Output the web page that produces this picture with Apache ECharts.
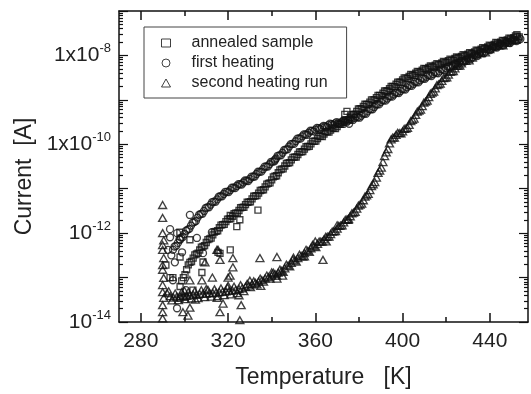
<!DOCTYPE html>
<html>
<head>
<meta charset="utf-8">
<script src="https://cdn.jsdelivr.net/npm/echarts@6/dist/echarts.min.js"></script>
<style>
  html, body { margin: 0; padding: 0; background: #fff; }
  #chart { width: 531px; height: 394px; }
</style>
</head>
<body>
<div id="chart"></div>
<script>
// tick values
const xMajor = [280, 320, 360, 400, 440]
const xMinor = [300, 340, 380, 420]
const yMajor = [1e-14, 1e-13, 1e-12, 1e-11, 1e-10, 1e-9, 1e-8, 1e-7]
const yMinor = [
  2e-14, 3e-14, 4e-14, 5e-14, 6e-14, 7e-14, 8e-14, 9e-14,
  2e-13, 3e-13, 4e-13, 5e-13, 6e-13, 7e-13, 8e-13, 9e-13,
  2e-12, 3e-12, 4e-12, 5e-12, 6e-12, 7e-12, 8e-12, 9e-12,
  2e-11, 3e-11, 4e-11, 5e-11, 6e-11, 7e-11, 8e-11, 9e-11,
  2e-10, 3e-10, 4e-10, 5e-10, 6e-10, 7e-10, 8e-10, 9e-10,
  2e-9, 3e-9, 4e-9, 5e-9, 6e-9, 7e-9, 8e-9, 9e-9,
  2e-8, 3e-8, 4e-8, 5e-8, 6e-8, 7e-8, 8e-8, 9e-8
]
const yLabelVals = [1e-14, 1e-12, 1e-10, 1e-8]
const yLabelBase = ['10', '10', '1x10', '1x10']
const yLabelExp = ['-14', '-12', '-10', '-8']

// annealed sample (squares), [T K, current A]
const annealed = [
  [298, 6.31e-14], [299.5, 1.0e-13], [301, 1.51e-13], [302.5, 2.19e-13], [304, 2.75e-13],
  [305.5, 3.39e-13], [307, 4.17e-13], [308.5, 5.01e-13], [310, 6.17e-13], [311.5, 7.41e-13],
  [313, 9.12e-13], [314.5, 1.1e-12], [316, 1.32e-12], [317.5, 1.55e-12], [319, 1.82e-12],
  [320.5, 2.09e-12], [322, 2.4e-12], [323.5, 2.82e-12], [325, 3.24e-12], [326.5, 3.8e-12],
  [328, 4.37e-12], [329.5, 5.01e-12], [331, 5.89e-12], [332.5, 6.92e-12], [334, 7.94e-12],
  [335.5, 9.33e-12], [337, 1.1e-11], [338.5, 1.32e-11], [340, 1.58e-11], [341.5, 1.91e-11],
  [343, 2.29e-11], [344.5, 2.75e-11], [346, 3.24e-11], [347.5, 3.8e-11], [349, 4.47e-11],
  [350.5, 5.13e-11], [352, 5.89e-11], [353.5, 6.76e-11], [355, 7.76e-11], [356.5, 8.91e-11],
  [358, 1.02e-10], [359.5, 1.17e-10], [361, 1.35e-10], [362.5, 1.51e-10], [364, 1.7e-10],
  [365.5, 1.91e-10], [367, 2.09e-10], [368.5, 2.29e-10], [370, 2.51e-10], [371.5, 2.82e-10],
  [373, 3.16e-10], [374.5, 3.55e-10], [376, 4.07e-10], [377.5, 4.68e-10], [379, 5.5e-10],
  [380.5, 6.31e-10], [382, 7.08e-10], [383.5, 7.94e-10], [385, 8.91e-10], [386.5, 1.0e-9],
  [388, 1.12e-9], [389.5, 1.26e-9], [391, 1.41e-9], [392.5, 1.58e-9], [394, 1.78e-9],
  [395.5, 2.0e-9], [397, 2.24e-9], [398.5, 2.51e-9], [400, 2.82e-9], [401.5, 3.09e-9],
  [403, 3.39e-9], [404.5, 3.63e-9], [406, 3.98e-9], [407.5, 4.27e-9], [409, 4.68e-9],
  [410.5, 5.01e-9], [412, 5.37e-9], [413.5, 5.62e-9], [415, 6.03e-9], [416.5, 6.31e-9],
  [418, 6.76e-9], [419.5, 7.08e-9], [421, 7.59e-9], [422.5, 7.94e-9], [424, 8.51e-9],
  [425.5, 8.91e-9], [427, 9.55e-9], [428.5, 1.0e-8], [430, 1.07e-8], [431.5, 1.12e-8],
  [433, 1.2e-8], [434.5, 1.29e-8], [436, 1.38e-8], [437.5, 1.45e-8], [439, 1.55e-8],
  [440.5, 1.66e-8], [442, 1.78e-8], [443.5, 1.91e-8], [445, 2.0e-8], [446.5, 2.14e-8],
  [448, 2.24e-8], [449.5, 2.4e-8], [451, 2.51e-8], [452.5, 2.69e-8],
  // second row of the band
  [298.75, 8.42e-14], [300.25, 1.16e-13], [301.75, 1.93e-13], [303.25, 2.3e-13], [304.75, 3.23e-13],
  [306.25, 3.53e-13], [307.75, 4.84e-13], [309.25, 5.23e-13], [310.75, 7.17e-13], [312.25, 7.73e-13],
  [313.75, 1.06e-12], [315.25, 1.13e-12], [316.75, 1.52e-12], [318.25, 1.58e-12], [319.75, 2.07e-12],
  [321.25, 2.11e-12], [322.75, 2.76e-12], [324.25, 2.84e-12], [325.75, 3.72e-12], [327.25, 3.83e-12],
  [328.75, 4.96e-12], [330.25, 5.1e-12], [331.75, 6.76e-12], [333.25, 6.97e-12], [334.75, 9.13e-12],
  [336.25, 9.5e-12], [337.75, 1.27e-11], [339.25, 1.35e-11], [340.75, 1.84e-11], [342.25, 1.96e-11],
  [343.75, 2.66e-11], [345.25, 2.8e-11], [346.75, 3.72e-11], [348.25, 3.87e-11], [349.75, 5.08e-11],
  [351.25, 5.17e-11], [352.75, 6.69e-11], [354.25, 6.81e-11], [355.75, 8.82e-11], [357.25, 8.96e-11],
  [358.75, 1.16e-10], [360.25, 1.18e-10], [361.75, 1.52e-10], [363.25, 1.5e-10], [364.75, 1.91e-10],
  [366.25, 1.88e-10], [367.75, 2.32e-10], [369.25, 2.26e-10], [370.75, 2.82e-10], [372.25, 2.81e-10],
  [373.75, 3.55e-10], [375.25, 3.57e-10], [376.75, 4.62e-10], [378.25, 4.77e-10], [379.75, 6.24e-10],
  [381.25, 6.28e-10], [382.75, 7.95e-10], [384.25, 7.91e-10], [385.75, 1.0e-9], [387.25, 9.96e-10],
  [388.75, 1.26e-9], [390.25, 1.25e-9], [391.75, 1.58e-9], [393.25, 1.58e-9], [394.75, 2.0e-9],
  [396.25, 1.99e-9], [397.75, 2.51e-9], [399.25, 2.5e-9], [400.75, 3.13e-9], [402.25, 3.05e-9],
  [403.75, 3.72e-9], [405.25, 3.57e-9], [406.75, 4.37e-9], [408.25, 4.2e-9], [409.75, 5.13e-9],
  [411.25, 4.88e-9], [412.75, 5.82e-9], [414.25, 5.47e-9], [415.75, 6.54e-9], [417.25, 6.14e-9],
  [418.75, 7.34e-9], [420.25, 6.89e-9], [421.75, 8.23e-9], [423.25, 7.73e-9], [424.75, 9.23e-9],
  [426.25, 8.67e-9], [427.75, 1.04e-8], [429.25, 9.72e-9], [430.75, 1.16e-8], [432.25, 1.09e-8],
  [433.75, 1.32e-8], [435.25, 1.25e-8], [436.75, 1.5e-8], [438.25, 1.41e-8], [439.75, 1.7e-8],
  [441.25, 1.62e-8], [442.75, 1.95e-8], [444.25, 1.84e-8], [445.75, 2.19e-8], [447.25, 2.06e-8],
  [448.75, 2.46e-8], [450.25, 2.3e-8], [451.75, 2.76e-8],
  // scattered points
  [297.9, 1.05e-12], [302.5, 7.1e-13], [308.5, 2.24e-13], [316.3, 3.5e-13], [321, 4.2e-13],
  [308, 1.3e-13], [300.2, 3.6e-14], [298, 3.4e-14], [294.7, 1.0e-13], [303.9, 5.2e-14],
  [321, 2.5e-12], [324, 1.4e-12], [315.4, 3.7e-13], [293.4, 1.0e-13], [298, 2.9e-13],
  [291.5, 1.9e-13], [325.4, 2.0e-12], [333.7, 3.3e-12], [374.5, 5.5e-10], [373.5, 4.7e-10],
  [452.4, 2.95e-8], [453.5, 2.6e-8]
]

// first heating (circles)
const firstHeating = [
  [294, 3.16e-13], [295.5, 5.01e-13], [297, 6.03e-13], [298.5, 7.94e-13], [300, 9.55e-13],
  [301.5, 1.2e-12], [303, 1.48e-12], [304.5, 1.78e-12], [306, 2.24e-12], [307.5, 2.69e-12],
  [309, 3.16e-12], [310.5, 3.8e-12], [312, 4.37e-12], [313.5, 5.13e-12], [315, 5.75e-12],
  [316.5, 6.76e-12], [318, 7.59e-12], [319.5, 8.51e-12], [321, 9.33e-12], [322.5, 1.05e-11],
  [324, 1.15e-11], [325.5, 1.26e-11], [327, 1.38e-11], [328.5, 1.51e-11], [330, 1.66e-11],
  [331.5, 1.86e-11], [333, 2.14e-11], [334.5, 2.4e-11], [336, 2.75e-11], [337.5, 3.16e-11],
  [339, 3.55e-11], [340.5, 4.07e-11], [342, 4.79e-11], [343.5, 5.62e-11], [345, 6.46e-11],
  [346.5, 7.59e-11], [348, 8.91e-11], [349.5, 1.02e-10], [351, 1.17e-10], [352.5, 1.35e-10],
  [354, 1.51e-10], [355.5, 1.66e-10], [357, 1.82e-10], [358.5, 2.0e-10], [360, 2.14e-10],
  [361.5, 2.29e-10], [363, 2.4e-10], [364.5, 2.51e-10], [366, 2.69e-10], [367.5, 2.82e-10],
  [369, 2.95e-10], [370.5, 3.02e-10], [372, 3.16e-10], [373.5, 3.24e-10], [375, 3.39e-10],
  [376.5, 3.63e-10], [378, 3.89e-10], [379.5, 4.07e-10], [381, 4.37e-10], [382.5, 4.9e-10],
  [384, 5.5e-10], [385.5, 6.17e-10], [387, 6.92e-10], [388.5, 7.94e-10], [390, 8.91e-10],
  [391.5, 9.77e-10], [393, 1.07e-9], [394.5, 1.2e-9], [396, 1.32e-9], [397.5, 1.45e-9],
  [399, 1.58e-9], [400.5, 1.74e-9], [402, 1.91e-9], [403.5, 2.09e-9], [405, 2.29e-9],
  [406.5, 2.51e-9], [408, 2.75e-9], [409.5, 3.02e-9], [411, 3.31e-9], [412.5, 3.55e-9],
  [414, 3.8e-9], [415.5, 4.07e-9], [417, 4.37e-9], [418.5, 4.79e-9], [420, 5.13e-9],
  [421.5, 5.5e-9], [423, 5.89e-9], [424.5, 6.31e-9], [426, 6.92e-9], [427.5, 7.41e-9],
  [429, 7.94e-9], [430.5, 8.51e-9], [432, 9.12e-9], [433.5, 1.0e-8], [435, 1.07e-8],
  [436.5, 1.15e-8], [438, 1.23e-8], [439.5, 1.35e-8], [441, 1.45e-8], [442.5, 1.55e-8],
  [444, 1.66e-8], [445.5, 1.74e-8], [447, 1.86e-8], [448.5, 1.95e-8], [450, 2.09e-8],
  [451.5, 2.19e-8], [453, 2.29e-8], [454, 2.34e-8],
  // second row of the band
  [294.75, 4.22e-13], [296.25, 5.17e-13], [297.75, 7.31e-13], [299.25, 8.18e-13], [300.75, 1.13e-12],
  [302.25, 1.25e-12], [303.75, 1.72e-12], [305.25, 1.88e-12], [306.75, 2.6e-12], [308.25, 2.74e-12],
  [309.75, 3.68e-12], [311.25, 3.83e-12], [312.75, 5.01e-12], [314.25, 5.1e-12], [315.75, 6.6e-12],
  [317.25, 6.73e-12], [318.75, 8.52e-12], [320.25, 8.38e-12], [321.75, 1.05e-11], [323.25, 1.03e-11],
  [324.75, 1.27e-11], [326.25, 1.24e-11], [327.75, 1.53e-11], [329.25, 1.49e-11], [330.75, 1.87e-11],
  [332.25, 1.88e-11], [333.75, 2.41e-11], [335.25, 2.42e-11], [336.75, 3.13e-11], [338.25, 3.15e-11],
  [339.75, 4.03e-11], [341.25, 4.15e-11], [342.75, 5.5e-11], [344.25, 5.67e-11], [345.75, 7.42e-11],
  [347.25, 7.73e-11], [348.75, 1.01e-10], [350.25, 1.02e-10], [351.75, 1.34e-10], [353.25, 1.34e-10],
  [354.75, 1.67e-10], [356.25, 1.64e-10], [357.75, 2.02e-10], [359.25, 1.95e-10], [360.75, 2.34e-10],
  [362.25, 2.2e-10], [363.75, 2.6e-10], [365.25, 2.44e-10], [366.75, 2.92e-10], [368.25, 2.71e-10],
  [369.75, 3.16e-10], [371.25, 2.9e-10], [372.75, 3.39e-10], [374.25, 3.11e-10], [375.75, 3.72e-10],
  [377.25, 3.53e-10], [378.75, 4.22e-10], [380.25, 3.97e-10], [381.75, 4.91e-10], [383.25, 4.88e-10],
  [384.75, 6.18e-10], [386.25, 6.14e-10], [387.75, 7.85e-10], [389.25, 7.91e-10], [390.75, 9.89e-10],
  [392.25, 9.59e-10], [393.75, 1.2e-9], [395.25, 1.18e-9], [396.75, 1.46e-9], [398.25, 1.42e-9],
  [399.75, 1.76e-9], [401.25, 1.71e-9], [402.75, 2.12e-9], [404.25, 2.06e-9], [405.75, 2.54e-9],
  [407.25, 2.47e-9], [408.75, 3.05e-9], [410.25, 2.97e-9], [411.75, 3.64e-9], [413.25, 3.45e-9],
  [414.75, 4.17e-9], [416.25, 3.97e-9], [417.75, 4.85e-9], [419.25, 4.66e-9], [420.75, 5.63e-9],
  [422.25, 5.35e-9], [423.75, 6.47e-9], [425.25, 6.21e-9], [426.75, 7.59e-9], [428.25, 7.21e-9],
  [429.75, 8.71e-9], [431.25, 8.28e-9], [432.75, 1.01e-8], [434.25, 9.68e-9], [435.75, 1.18e-8],
  [437.25, 1.12e-8], [438.75, 1.37e-8], [440.25, 1.32e-8], [441.75, 1.59e-8], [443.25, 1.5e-8],
  [444.75, 1.8e-8], [446.25, 1.69e-8], [447.75, 2.01e-8], [449.25, 1.9e-8], [450.75, 2.27e-8],
  [452.25, 2.11e-8],
  // scattered points
  [293.4, 1.23e-12], [294.7, 8.7e-14], [296.6, 1.0e-12], [293.4, 8.1e-13], [298, 7.1e-13],
  [296.6, 2.04e-14], [298.9, 3.7e-13], [302.5, 2.57e-12], [305.7, 7.8e-13], [308.5, 3.55e-13],
  [300.7, 5.2e-14], [295.6, 2.2e-13], [292.5, 4.2e-13], [341.5, 4.5e-11], [312.6, 1.05e-12],
  [375.5, 2.9e-10]
]

// second heating run (triangles)
const secondHeating = [
  [292, 4.47e-14], [293.5, 3.8e-14], [295, 3.55e-14], [296.5, 3.72e-14], [298, 3.8e-14],
  [299.5, 3.98e-14], [301, 3.89e-14], [302.5, 3.98e-14], [304, 4.17e-14], [305.5, 4.07e-14],
  [307, 4.27e-14], [308.5, 4.37e-14], [310, 4.37e-14], [311.5, 4.47e-14], [313, 4.47e-14],
  [314.5, 4.57e-14], [316, 4.68e-14], [317.5, 4.79e-14], [319, 4.9e-14], [320.5, 5.01e-14],
  [322, 5.13e-14], [323.5, 5.25e-14], [325, 5.5e-14], [326.5, 5.75e-14], [328, 6.17e-14],
  [329.5, 6.61e-14], [331, 7.08e-14], [332.5, 7.59e-14], [334, 8.13e-14], [335.5, 8.71e-14],
  [337, 9.55e-14], [338.5, 1.02e-13], [340, 1.1e-13], [341.5, 1.2e-13], [343, 1.29e-13],
  [344.5, 1.41e-13], [346, 1.62e-13], [347.5, 1.86e-13], [349, 2.14e-13], [350.5, 2.4e-13],
  [352, 2.75e-13], [353.5, 3.09e-13], [355, 3.55e-13], [356.5, 3.98e-13], [358, 4.57e-13],
  [359.5, 5.13e-13], [361, 5.75e-13], [362.5, 6.46e-13], [364, 7.24e-13], [365.5, 8.32e-13],
  [367, 9.55e-13], [368.5, 1.1e-12], [370, 1.26e-12], [371.5, 1.48e-12], [373, 1.74e-12],
  [374.5, 2.04e-12], [376, 2.4e-12], [377.5, 2.88e-12], [379, 3.55e-12], [380.5, 4.37e-12],
  [382, 5.5e-12], [383.5, 7.08e-12], [385, 9.33e-12], [386.5, 1.26e-11], [388, 1.78e-11],
  [389.5, 2.57e-11], [391, 3.98e-11], [392.5, 6.61e-11], [394, 1.05e-10], [395.5, 1.41e-10],
  [397, 1.62e-10], [398.5, 1.78e-10], [400, 1.95e-10], [401.5, 2.24e-10], [403, 2.75e-10],
  [404.5, 3.55e-10], [406, 4.57e-10], [407.5, 5.75e-10], [409, 7.24e-10], [410.5, 9.12e-10],
  [412, 1.15e-9], [413.5, 1.45e-9], [415, 1.82e-9], [416.5, 2.24e-9], [418, 2.69e-9],
  [419.5, 3.16e-9], [421, 3.72e-9], [422.5, 4.37e-9], [424, 5.13e-9], [425.5, 5.89e-9],
  [427, 6.61e-9], [429, 7.59e-9], [432, 8.91e-9], [436, 1.12e-8], [440, 1.38e-8],
  [444, 1.66e-8], [448, 1.95e-8], [452, 2.24e-8],
  // second row of the band
  [292.75, 4.9e-14], [294.25, 3.05e-14], [295.75, 4.36e-14], [297.25, 3.12e-14], [298.75, 4.67e-14],
  [300.25, 3.26e-14], [301.75, 4.72e-14], [303.25, 3.38e-14], [304.75, 4.94e-14], [306.25, 3.46e-14],
  [307.75, 5.18e-14], [309.25, 3.63e-14], [310.75, 5.3e-14], [312.25, 3.71e-14], [313.75, 5.42e-14],
  [315.25, 3.83e-14], [316.75, 5.68e-14], [318.25, 4.02e-14], [319.75, 5.94e-14], [321.25, 4.21e-14],
  [322.75, 6.23e-14], [324.25, 4.46e-14], [325.75, 6.74e-14], [327.25, 4.95e-14], [328.75, 7.16e-14],
  [330.25, 6.09e-14], [331.75, 8.21e-14], [333.25, 7.0e-14], [334.75, 9.43e-14], [336.25, 8.12e-14],
  [337.75, 1.11e-13], [339.25, 9.43e-14], [340.75, 1.29e-13], [342.25, 1.1e-13], [343.75, 1.51e-13],
  [345.25, 1.34e-13], [346.75, 1.95e-13], [348.25, 1.78e-13], [349.75, 2.54e-13], [351.25, 2.29e-13],
  [352.75, 3.27e-13], [354.25, 2.95e-13], [355.75, 4.21e-13], [357.25, 3.8e-13], [358.75, 5.42e-13],
  [360.25, 4.83e-13], [361.75, 6.47e-13], [363.25, 6.43e-13], [364.75, 8.23e-13], [366.25, 8.38e-13],
  [367.75, 1.08e-12], [369.25, 1.11e-12], [370.75, 1.45e-12], [372.25, 1.5e-12], [373.75, 1.99e-12],
  [375.25, 2.08e-12], [376.75, 2.79e-12], [378.25, 3.0e-12], [379.75, 4.18e-12], [381.25, 4.61e-12],
  [382.75, 6.61e-12], [384.25, 7.64e-12], [385.75, 1.15e-11], [387.25, 1.41e-11], [388.75, 2.27e-11],
  [390.25, 3.0e-11], [391.75, 5.44e-11], [393.25, 7.83e-11], [394.75, 1.29e-10], [396.25, 1.42e-10],
  [397.75, 1.8e-10], [399.25, 1.75e-10], [400.75, 2.21e-10], [402.25, 2.33e-10], [403.75, 3.31e-10],
  [405.25, 3.79e-10], [406.75, 5.44e-10], [408.25, 6.06e-10], [409.75, 8.62e-10], [411.25, 9.62e-10],
  [412.75, 1.37e-9], [414.25, 1.53e-9], [415.75, 2.14e-9], [417.25, 2.31e-9], [418.75, 3.09e-9],
  [420.25, 3.22e-9], [421.75, 4.27e-9], [423.25, 4.45e-9], [424.75, 5.83e-9], [426.25, 5.87e-9],
  [428, 7.5e-9], [430.5, 7.73e-9], [434, 1.06e-8], [438, 1.17e-8], [442, 1.6e-8],
  [446, 1.69e-8], [450, 2.22e-8],
  // band spread
  [300, 5.0e-14], [305, 3.2e-14], [310, 5.5e-14], [315, 3.5e-14], [320, 6.5e-14],
  [325, 4.0e-14], [330, 8.5e-14], [335, 6.5e-14], [340, 1.3e-13], [345, 1.1e-13],
  [350, 2.8e-13], [355, 3.0e-13], [360, 6.5e-13], [365, 6.5e-13], [370, 1.5e-12],
  [375, 2.0e-12],
  // column at 290 K
  [290, 4.3e-12], [290, 2.2e-12], [290, 1.0e-12], [290.5, 6.9e-13], [290, 5.4e-13],
  [290, 4.2e-13], [290.5, 2.75e-13], [290, 1.9e-13], [290, 1.5e-13], [290.5, 9.8e-14],
  [290, 6.8e-14], [290, 4.7e-14], [290.5, 3.5e-14], [290, 2.4e-14], [290, 1.66e-14],
  [290, 1.2e-14],
  // scattered points
  [315.4, 4.2e-13], [316.3, 2.5e-13], [322.2, 2.75e-13], [322.2, 1.7e-13], [334.6, 2.75e-13],
  [342.4, 2.9e-13], [309.4, 2.2e-13], [302.5, 8.7e-14], [308, 8.7e-14], [312.8, 1.0e-13],
  [320.9, 1.1e-13], [325.4, 1.1e-14], [316.3, 1.66e-14], [302.5, 2.1e-14], [299.3, 1.66e-14],
  [317.7, 2.6e-14], [363.5, 2.5e-13], [342.4, 9.5e-14], [301.6, 1.4e-14], [314.9, 4.2e-13],
  [320, 1.0e-13], [326, 2.4e-14]
]

const font = 'Liberation Sans, Arial, Helvetica, sans-serif'
const axisColor = '#111'
const textColor = '#222'

function xAxisOf(position, ticks, len, main) {
  return {
    type: 'value',
    position: position,
    min: 270,
    max: 457.5,
    axisLine: { show: main, lineStyle: { color: axisColor, width: 1.5 } },
    axisTick: { inside: true, length: len, customValues: ticks, lineStyle: { color: axisColor, width: 1.5 } },
    axisLabel: (main && position === 'bottom')
      ? { customValues: xMajor, fontSize: 21, color: textColor, margin: 9, fontFamily: font }
      : { show: false },
    splitLine: { show: false }
  }
}

function yAxisOf(position, ticks, len, main) {
  return {
    type: 'log',
    logBase: 10,
    position: position,
    min: 1e-14,
    max: 1e-7,
    axisLine: { show: main, lineStyle: { color: axisColor, width: 1.5 } },
    axisTick: { inside: true, length: len, customValues: ticks, lineStyle: { color: axisColor, width: 1.2 } },
    axisLabel: (main && position === 'left')
      ? {
          customValues: yLabelVals,
          margin: 8,
          color: textColor,
          fontFamily: font,
          formatter: (v) => {
            const i = yLabelVals.findIndex(t => Math.abs(t / v - 1) < 0.01)
            return '{b|' + yLabelBase[i] + '}{s|' + yLabelExp[i] + '}'
          },
          rich: {
            b: { fontSize: 21, fontFamily: font, color: textColor },
            s: { fontSize: 13, fontFamily: font, color: textColor, padding: [0, 0, 14, 0] }
          }
        }
      : { show: false },
    splitLine: { show: false }
  }
}

const xAxes = [
  xAxisOf('bottom', xMajor, 9, true),
  xAxisOf('bottom', xMinor, 5, false),
  xAxisOf('top', xMajor, 9, true),
  xAxisOf('top', xMinor, 5, false)
]
xAxes[0].name = 'Temperature   [K]'
xAxes[0].nameLocation = 'middle'
xAxes[0].nameGap = 44
xAxes[0].nameTextStyle = { fontSize: 23, color: textColor, fontFamily: font }

const yAxes = [
  yAxisOf('left', yMajor, 9, true),
  yAxisOf('left', yMinor, 4, false),
  yAxisOf('right', yMajor, 9, true),
  yAxisOf('right', yMinor, 4, false)
]
yAxes[0].name = 'Current  [A]'
yAxes[0].nameLocation = 'middle'
yAxes[0].nameGap = 80
yAxes[0].nameTextStyle = { fontSize: 23, color: textColor, fontFamily: font, padding: [0, 20, 0, 0] }

const markStyle = { color: 'rgba(0,0,0,0)', borderColor: '#111', borderWidth: 1.35 }

const chart = echarts.init(document.getElementById('chart'))
chart.setOption({
  backgroundColor: '#fff',
  animation: false,
  grid: { left: 119, right: 3, top: 11, bottom: 72 },
  legend: {
    orient: 'vertical',
    left: 144,
    top: 27,
    padding: [8, 19, 7, 17],
    itemGap: 4,
    itemWidth: 9,
    itemHeight: 8,
    borderColor: '#444',
    borderWidth: 1,
    borderRadius: 0,
    itemStyle: { borderWidth: 1 },
    textStyle: { fontSize: 16, color: textColor, fontFamily: font, padding: [0, 0, 0, 16], lineHeight: 16 },
    data: ['annealed sample', 'first heating', 'second heating run']
  },
  xAxis: xAxes,
  yAxis: yAxes,
  series: [
    {
      name: 'second heating run',
      type: 'scatter',
      symbol: 'triangle',
      symbolSize: [8, 7],
      itemStyle: markStyle,
      data: secondHeating
    },
    {
      name: 'first heating',
      type: 'scatter',
      symbol: 'circle',
      symbolSize: 7,
      itemStyle: markStyle,
      data: firstHeating
    },
    {
      name: 'annealed sample',
      type: 'scatter',
      symbol: 'rect',
      symbolSize: 6,
      itemStyle: markStyle,
      data: annealed
    }
  ]
})
</script>
</body>
</html>
